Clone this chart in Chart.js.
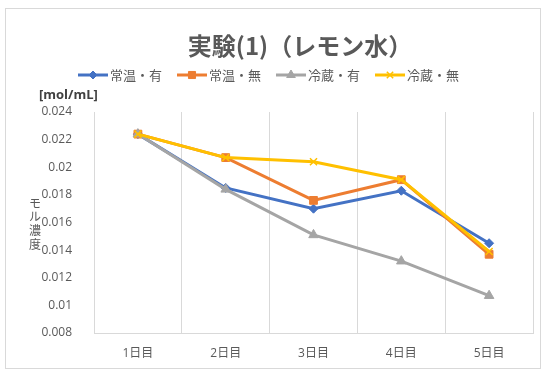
<!DOCTYPE html>
<html>
<head>
<meta charset="utf-8">
<script src="https://cdn.jsdelivr.net/npm/chart.js@4"></script>
<style>
  body { margin: 0; background: #fff; }
  #wrap { width: 546px; height: 370px; }
</style>
</head>
<body>
<div id="wrap"><canvas id="chart" width="546" height="370"></canvas></div>
<script>
const days = ['1日目', '2日目', '3日目', '4日目', '5日目'];
const roomWith = [0.0224, 0.0185, 0.0170, 0.0183, 0.0145];
const roomWithout = [0.0224, 0.0207, 0.0176, 0.0191, 0.0137];
const coldWith = [0.0224, 0.0184, 0.0151, 0.0132, 0.0107];
const coldWithout = [0.0224, 0.0207, 0.0204, 0.0191, 0.0139];
const seriesNames = ['常温・有', '常温・無', '冷蔵・有', '冷蔵・無'];
const yMin = 0.008, yMax = 0.024, yStep = 0.002;

const FONT = '"Open Sans", "Noto Sans CJK JP", sans-serif';
const JP = '"Noto Sans CJK JP", sans-serif';
const TXT = '#595959';

const styles = [
  { color: '#4472C4', point: 'rectRot', r: 4.5 },
  { color: '#ED7D31', point: 'rect', r: 5.5 },
  { color: '#A5A5A5', point: 'triangle', r: 5.5 },
  { color: '#FFC000', point: 'crossRot', r: 5 }
];

function makeSet(i, data) {
  const s = styles[i];
  return {
    label: seriesNames[i],
    data: data,
    borderColor: s.color,
    backgroundColor: s.color,
    borderWidth: 3,
    pointStyle: s.point,
    pointRadius: s.r,
    pointBorderWidth: s.point === 'crossRot' ? 1.5 : 1,
    order: 3 - i
  };
}

// title, legend, axis captions and frame
const decor = {
  id: 'decor',
  beforeDraw(chart) {
    const c = chart.ctx;
    c.save();
    c.fillStyle = '#fff';
    c.fillRect(0, 0, chart.width, chart.height);
    c.strokeStyle = '#d9d9d9';
    c.lineWidth = 1;
    c.strokeRect(5.5, 8.5, 535, 360);
    c.restore();
  },
  afterDraw(chart) {
    const c = chart.ctx;
    c.save();
    c.fillStyle = TXT;
    c.textBaseline = 'middle';
    c.textAlign = 'center';
    c.font = 'bold 24px ' + JP;
    c.fillText('実験(1)（レモン水）', 300, 46);

    // legend
    c.font = '13px ' + JP;
    c.textAlign = 'left';
    const y = 75;
    chart.data.datasets.forEach((ds, i) => {
      const x0 = 78 + i * 99;
      c.strokeStyle = ds.borderColor;
      c.lineWidth = 3;
      c.beginPath();
      c.moveTo(x0, y);
      c.lineTo(x0 + 30, y);
      c.stroke();
      c.fillStyle = ds.backgroundColor;
      c.lineWidth = ds.pointBorderWidth;
      Chart.helpers.drawPoint(c, { pointStyle: ds.pointStyle, radius: ds.pointRadius - 0.5, borderWidth: ds.pointBorderWidth }, x0 + 15, y);
      c.fillStyle = TXT;
      c.fillText(ds.label, x0 + 32, y);
    });

    // y axis caption
    c.fillStyle = '#404040';
    c.font = 'bold 13px ' + FONT;
    c.textAlign = 'left';
    c.fillText('[mol/mL]', 39, 95);

    c.fillStyle = TXT;
    c.font = '12px ' + JP;
    c.textAlign = 'center';
    const chars = ['モ', 'ル', '濃', '度'];
    chars.forEach((ch, k) => c.fillText(ch, 35, 203 + k * 13.7));
    c.restore();
  }
};

new Chart(document.getElementById('chart'), {
  type: 'line',
  data: {
    labels: days,
    datasets: [
      makeSet(0, roomWith),
      makeSet(1, roomWithout),
      makeSet(2, coldWith),
      makeSet(3, coldWithout)
    ]
  },
  options: {
    responsive: false,
    animation: false,
    layout: { padding: { left: 20, right: 13, top: 112, bottom: 0 } },
    plugins: { legend: { display: false }, title: { display: false }, tooltip: { enabled: false } },
    scales: {
      x: {
        offset: true,
        grid: { offset: true, color: '#d9d9d9', drawTicks: false },
        border: { color: '#d9d9d9' },
        ticks: { color: TXT, padding: 13, font: { family: FONT, size: 12 } },
        afterFit(s) { s.height = 37; }
      },
      y: {
        min: yMin,
        max: yMax,
        grid: { display: false },
        border: { display: false },
        ticks: {
          stepSize: yStep,
          color: TXT,
          padding: 14,
          font: { family: FONT, size: 12 },
          callback: v => String(parseFloat(v.toFixed(3)))
        },
        afterFit(s) { s.width = 74; }
      }
    }
  },
  plugins: [decor]
});
</script>
</body>
</html>
